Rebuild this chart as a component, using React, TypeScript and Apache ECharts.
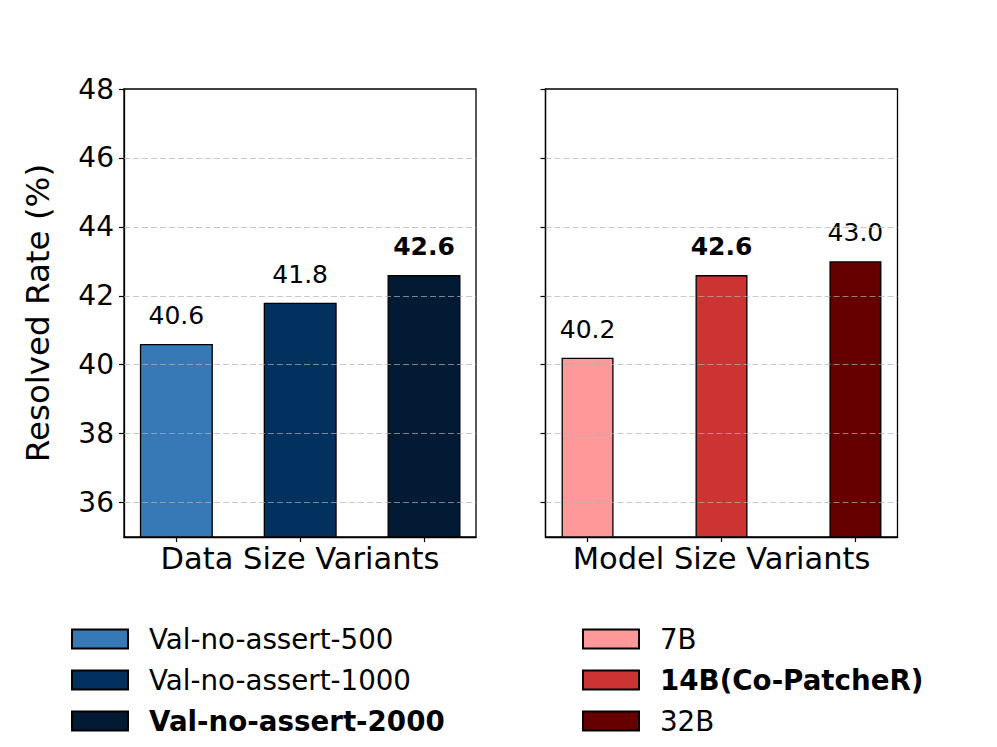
import React, { useEffect, useRef } from "react";
import * as echarts from "echarts";

const yTicks = [36, 38, 40, 42, 44, 46, 48];
const gridLines = [36, 38, 40, 42, 44, 46];
const positions = [0, 1, 2];
const dataCategories = ["Val-no-assert-500", "Val-no-assert-1000", "Val-no-assert-2000"];
const dataValues = [40.6, 41.8, 42.6];
const dataColors = ["#3778b6", "#03315f", "#021a33"];
const modelCategories = ["7B", "14B(Co-PatcheR)", "32B"];
const modelValues = [40.2, 42.6, 43.0];
const modelColors = ["#ff9999", "#cc3333", "#660000"];
const panelTitles = ["Data Size Variants", "Model Size Variants"];
const yTitle = "Resolved Rate (%)";
const boldNames = ["Val-no-assert-2000", "14B(Co-PatcheR)"];

const FONT = "DejaVu Sans";

function makeSeries(names: string[], values: number[], colors: string[], gi: number, barWidth: number) {
  return names.map((name, i) => ({
    type: "bar",
    name,
    xAxisIndex: gi,
    yAxisIndex: gi,
    stack: "p" + gi,
    barWidth,
    data: [[positions[i], values[i]]],
    itemStyle: { color: colors[i], borderColor: "#000", borderWidth: 1.3 },
    label: {
      show: true,
      position: "top",
      distance: 16,
      formatter: (p: any) => Number(p.value[1]).toFixed(1),
      fontSize: 25,
      fontFamily: FONT,
      color: "#000",
      fontWeight: boldNames.includes(name) ? "bold" : "normal",
    },
    markLine:
      i === 0
        ? {
            silent: true,
            symbol: "none",
            z: 10,
            label: { show: false },
            lineStyle: { color: "#b0b0b0", opacity: 0.7, type: [6, 3], width: 1 },
            data: gridLines.map((v) => ({ yAxis: v })),
          }
        : undefined,
  }));
}

function makeX(gi: number, min: number, max: number) {
  return {
    gridIndex: gi,
    type: "value",
    min,
    max,
    axisLabel: { show: false },
    splitLine: { show: false },
    axisLine: { show: true, onZero: false, lineStyle: { color: "#000", width: 1.3 } },
    axisTick: { show: true, customValues: positions, length: 5, inside: false, lineStyle: { color: "#000", width: 1.2 } },
    name: panelTitles[gi],
    nameLocation: "middle",
    nameGap: 6,
    nameTextStyle: { fontSize: 30.5, fontFamily: FONT, color: "#000" },
  };
}

function makeY(gi: number) {
  return {
    gridIndex: gi,
    type: "value",
    min: 35,
    max: 48,
    splitLine: { show: false },
    axisLine: { show: true, onZero: false, lineStyle: { color: "#000", width: 1.3 } },
    axisTick: { show: true, customValues: yTicks, length: 5, inside: false, lineStyle: { color: "#000", width: 1.2 } },
    axisLabel: {
      show: gi === 0,
      customValues: yTicks,
      margin: 10,
      fontSize: 28,
      fontFamily: FONT,
      color: "#000",
    },
    name: gi === 0 ? yTitle : "",
    nameLocation: "middle",
    nameGap: 70,
    nameTextStyle: { fontSize: 32.5, fontFamily: FONT, color: "#000" },
  };
}

function makeLegend(names: string[], left: number) {
  return {
    data: names.map((n) => ({ name: n, textStyle: { fontWeight: boldNames.includes(n) ? "bold" : "normal" } })),
    orient: "vertical",
    left,
    top: 620,
    height: 125,
    itemWidth: 56,
    itemHeight: 19,
    itemGap: 13,
    icon: "rect",
    selectedMode: false,
    textStyle: { fontSize: 27.7, fontFamily: FONT, color: "#000", padding: [0, 0, 0, 16] },
  };
}

export default function App() {
  const ref = useRef<HTMLDivElement>(null);
  useEffect(() => {
    if (!ref.current) return;
    const chart = echarts.init(ref.current, null, { renderer: "svg" });
    chart.setOption({
      animation: false,
      backgroundColor: "#fff",
      grid: [
        { left: 124, top: 89, width: 352, height: 448, show: true, borderColor: "#000", borderWidth: 1.3, backgroundColor: "transparent" },
        { left: 545.5, top: 89, width: 352, height: 448, show: true, borderColor: "#000", borderWidth: 1.3, backgroundColor: "transparent" },
      ],
      xAxis: [makeX(0, -0.423, 2.42), makeX(1, -0.314, 2.314)],
      yAxis: [makeY(0), makeY(1)],
      legend: [makeLegend(dataCategories, 66), makeLegend(modelCategories, 577)],
      series: [
        ...makeSeries(dataCategories, dataValues, dataColors, 0, 73),
        ...makeSeries(modelCategories, modelValues, modelColors, 1, 52),
      ],
    });
    return () => chart.dispose();
  }, []);
  return <div ref={ref} style={{ position: "fixed", left: 0, top: 0, width: 997, height: 747 }} />;
}
